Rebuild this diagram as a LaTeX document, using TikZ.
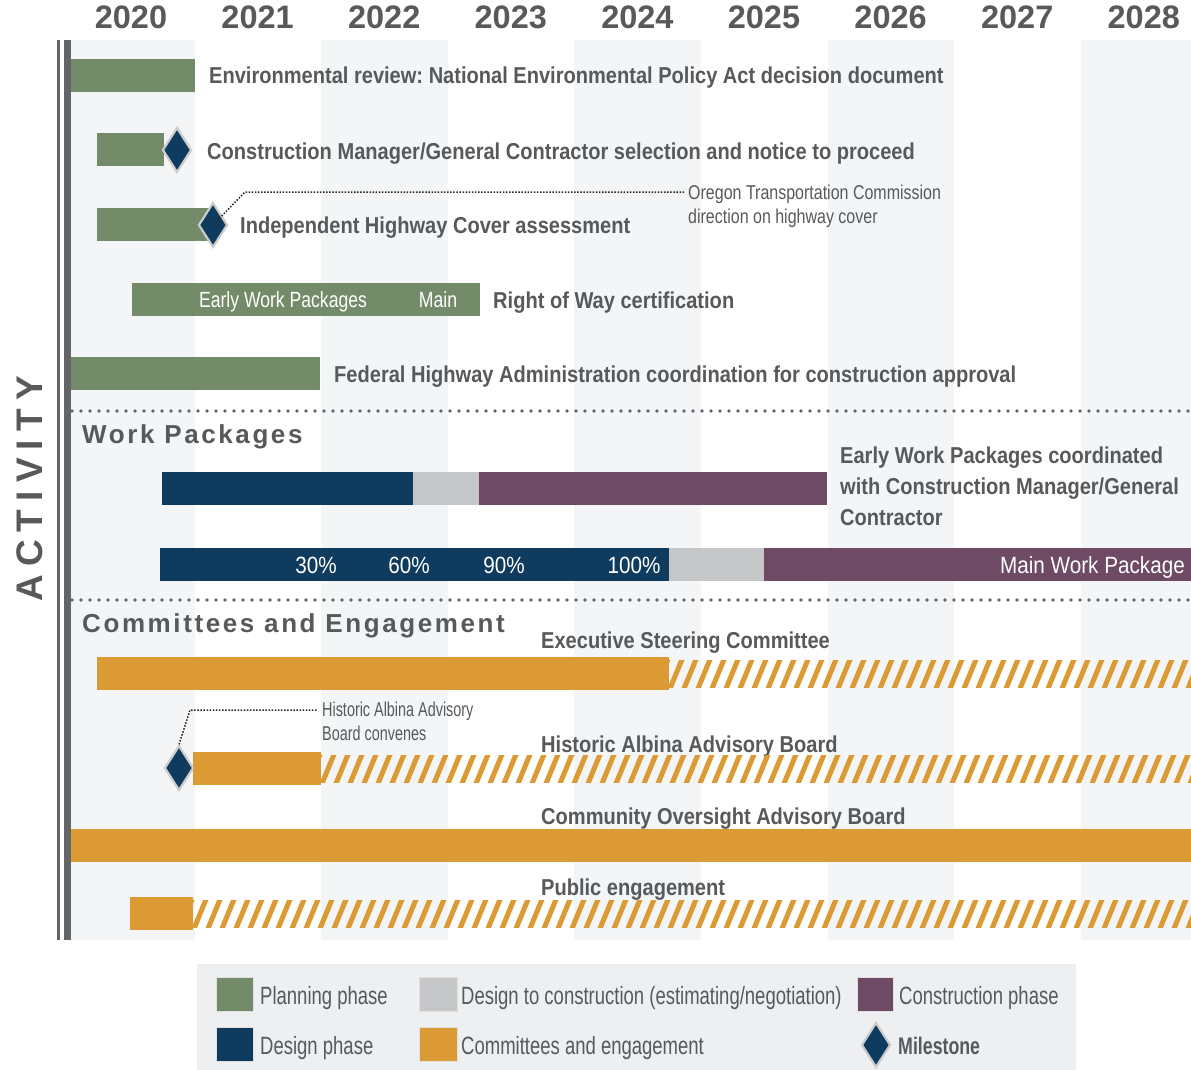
\documentclass[tikz,border=0pt]{standalone}
\usepackage{fontspec}
\setmainfont{Liberation Sans}
\newfontfamily\narrowfont[FakeStretch=0.872]{Liberation Sans}
\newfontfamily\inbarfont[FakeStretch=0.80]{Liberation Sans}
\newfontfamily\inbarbig[FakeStretch=0.88]{Liberation Sans}
\newfontfamily\notefont[FakeStretch=0.80]{Liberation Sans}
\newfontfamily\condfont[FakeStretch=0.72]{Liberation Sans}
\newfontfamily\legfont[FakeStretch=0.74]{Liberation Sans}
\newfontfamily\trackfont[LetterSpace=10]{Liberation Sans}
\newfontfamily\actfont[LetterSpace=22]{Liberation Sans}
\usetikzlibrary{shapes.geometric}
\definecolor{planG}{HTML}{738B68}
\definecolor{navyB}{HTML}{0F3B5F}
\definecolor{transG}{HTML}{C6C7C9}
\definecolor{consP}{HTML}{6E4A64}
\definecolor{engO}{HTML}{DC9A34}
\definecolor{stripeG}{HTML}{F4F5F7}
\definecolor{txtG}{HTML}{58595B}
\definecolor{axisG}{HTML}{646569}
\definecolor{legBg}{HTML}{EEEFF1}
\tikzset{
  lbl/.style={anchor=base west, inner sep=0, text=txtG, font=\narrowfont\bfseries\fontsize{23}{31}\selectfont},
  lblblock/.style={anchor=north west, inner sep=0, text=txtG, align=left, font=\narrowfont\bfseries\fontsize{23}{31}\selectfont},
  inbar/.style={anchor=base, inner sep=0, text=white, font=\inbarfont\fontsize{22}{26}\selectfont},
  inbarb/.style={anchor=base, inner sep=0, text=white, font=\inbarbig\fontsize{23.5}{26}\selectfont},
  note/.style={anchor=north west, inner sep=0, text=txtG, align=left, font=\notefont\fontsize{20}{23.5}\selectfont},
  notec/.style={anchor=north west, inner sep=0, text=txtG, align=left, font=\condfont\fontsize{20}{24}\selectfont},
  yr/.style={anchor=base, inner sep=0, text=txtG, font=\bfseries\fontsize{32.5}{34}\selectfont},
  head/.style={anchor=base west, inner sep=0, text=txtG, font=\trackfont\bfseries\fontsize{26}{30}\selectfont},
  legtxt/.style={anchor=base west, inner sep=0, text=txtG, font=\legfont\fontsize{25}{27}\selectfont},
  milestone/.style={diamond, fill=navyB, draw=black!20, line width=2.2, minimum width=29, minimum height=45, inner sep=0},
  leader/.style={draw=black!85, line width=1.5, dash pattern=on 1.5pt off 1.6pt},
  sepline/.style={draw=axisG, line width=3.8, line cap=round, dash pattern=on 0pt off 9pt},
  hatchline/.style={draw=engO, line width=5},
  legsq/.style={draw=black!12, line width=0.8}
}
\newcommand{\gbar}[4]{\fill[#1] (#2,#4) rectangle (#3,#4+33);}
\newcommand{\hatchfill}[3]{%
  \pgfmathtruncatemacro{\ha}{#1-14}%
  \pgfmathtruncatemacro{\hb}{#1}%
  \begin{scope}
    \clip (#1,#3+3) rectangle (#2,#3+30);
    \foreach \k in {\ha,\hb,...,#2} {\draw[hatchline] (\k,#3+34) -- ++(14,-34);}
  \end{scope}}
\begin{document}
\frenchspacing
\begin{tikzpicture}[x=1pt,y=-1pt]
\useasboundingbox (0,0) rectangle (1191,1070);
\begin{scope}
\clip (0,0) rectangle (1191,1070);
\fill[white] (0,0) rectangle (1191,1070);
% year stripes
\foreach \i in {0,2,4,6,8} {\fill[stripeG] ({68+126.6*\i},40) rectangle ({68+126.6*(\i+1)},940);}
% years
\foreach \y [count=\i from 0] in {2020,2021,2022,2023,2024,2025,2026,2027,2028}
  {\node[yr] (yr\y) at ({131+126.6*\i},29) {\y};}
% axis
\fill[axisG] (57,40) rectangle (59.5,940);
\fill[axisG] (64,40) rectangle (71,940);
\node[rotate=90, text=txtG, inner sep=0, font=\actfont\bfseries\fontsize{37}{40}\selectfont] (act) at (30,489) {ACTIVITY};

% planning rows
\gbar{planG}{71}{195}{59}
\node[lbl] (l1) at (209,84) {Environmental review: National Environmental Policy Act decision document};
\gbar{planG}{97}{164}{133}
\node[milestone] (m1) at (177,150) {};
\node[lbl] (l2) at (207,159) {Construction Manager/General Contractor selection and notice to proceed};
\gbar{planG}{97}{212}{208}
\node[milestone] (m2) at (213,225) {};
\node[lbl] (l3) at (240,233) {Independent Highway Cover assessment};
\node[note] (n1) at (688,185) {Oregon Transportation Commission\\direction on highway cover};
\coordinate (k1) at (245,192);
\draw[leader, shorten >=4pt] (m2.center) -- (k1) -- (k1 -| n1.west);
\gbar{planG}{132}{480}{283}
\node[inbar] (t1) at (283,307) {Early Work Packages};
\node[inbar] (t2) at (438,307) {Main};
\node[lbl] (l4) at (493,308) {Right of Way certification};
\gbar{planG}{71}{320}{357}
\node[lbl] (l5) at (334,382) {Federal Highway Administration coordination for construction approval};

% separator
\draw[sepline] (72,411) -- (1195,411);
\node[head] (h1) at (82,443) {Work Packages};
\gbar{navyB}{162}{413}{472}
\gbar{transG}{413}{479}{472}
\gbar{consP}{479}{827}{472}
\node[lblblock] (l6) at (840,447) {Early Work Packages coordinated\\with Construction Manager/General\\Contractor};
\gbar{navyB}{160}{669}{548}
\gbar{transG}{669}{764}{548}
\gbar{consP}{764}{1191}{548}
\node[inbarb] (p30) at (316,573) {30\%};
\node[inbarb] (p60) at (409,573) {60\%};
\node[inbarb] (p90) at (504,573) {90\%};
\node[inbarb] (p100) at (634,573) {100\%};
\node[inbarb, anchor=base east] (mwp) at (1185,573) {Main Work Package};

\draw[sepline] (72,600) -- (1195,600);
\node[head] (h2) at (82,632) {Committees and Engagement};
\node[lbl] (l7) at (541,648) {Executive Steering Committee};
\gbar{engO}{97}{669}{657}
\hatchfill{669}{1191}{657}
\node[notec] (n2) at (322,702) {Historic Albina Advisory\\Board convenes};
\node[lbl] (l8) at (541,752) {Historic Albina Advisory Board};
\gbar{engO}{193}{321}{752}
\hatchfill{321}{1191}{752}
\node[milestone] (m3) at (179,768) {};
\coordinate (k2) at (190,710);
\draw[leader, shorten >=5pt] (m3.north) -- (k2) -- (k2 -| n2.west);
\node[lbl] (l9) at (541,824) {Community Oversight Advisory Board};
\gbar{engO}{71}{1191}{829}
\node[lbl] (l10) at (541,895) {Public engagement};
\gbar{engO}{130}{193}{897}
\hatchfill{193}{1191}{897}

% legend
\fill[legBg] (197,964) rectangle (1076,1070);
\filldraw[legsq, fill=planG] (216,977) rectangle (253,1011);
\node[legtxt] (g1) at (260,1004) {Planning phase};
\filldraw[legsq, fill=transG] (419,977) rectangle (457,1011);
\node[legtxt] (g2) at (461,1004) {Design to construction (estimating/negotiation)};
\filldraw[legsq, fill=consP] (857,977) rectangle (893,1011);
\node[legtxt] (g3) at (899,1004) {Construction phase};
\filldraw[legsq, fill=navyB] (216,1027) rectangle (253,1061);
\node[legtxt] (g4) at (260,1054) {Design phase};
\filldraw[legsq, fill=engO] (419,1027) rectangle (457,1061);
\node[legtxt] (g5) at (461,1054) {Committees and engagement};
\node[milestone] (m4) at (876,1045) {};
\node[legtxt, font=\legfont\bfseries\fontsize{24}{27}\selectfont] (g6) at (898,1054) {Milestone};
\end{scope}
\end{tikzpicture}
\end{document}
